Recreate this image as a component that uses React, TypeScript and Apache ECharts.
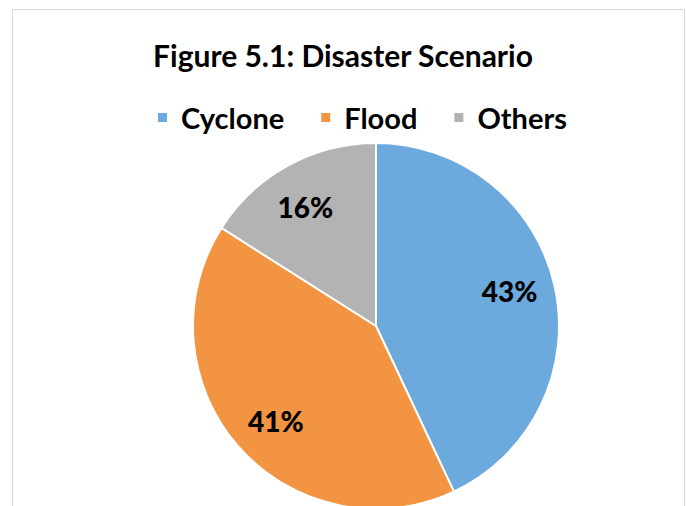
import React, { useEffect, useRef } from "react";
import * as echarts from "echarts";

const categories = ["Cyclone", "Flood", "Others"];
const shares = [43, 41, 16];
const colors = ["#6CAADD", "#F39442", "#B3B3B3"];
const titleText = "Figure 5.1: Disaster Scenario";

const FONT = "Lato, 'Open Sans', sans-serif";

export default function App() {
  const ref = useRef<HTMLDivElement>(null);

  useEffect(() => {
    document.body.style.margin = "0";
    if (!ref.current) return;
    const chart = echarts.init(ref.current, undefined, { renderer: "svg" });

    const data = categories.map((name, i) => ({
      name,
      value: shares[i],
      itemStyle: { color: colors[i] },
    }));

    chart.setOption({
      animation: false,
      backgroundColor: "#ffffff",
      color: colors,
      title: {
        text: titleText,
        left: "center",
        top: 35,
        textStyle: {
          fontFamily: FONT,
          fontWeight: "bold",
          fontSize: 30,
          color: "#000000",
        },
      },
      legend: {
        data: categories,
        left: 151,
        top: 98,
        icon: "rect",
        itemWidth: 11,
        itemHeight: 11,
        itemGap: 35,
        textStyle: {
          fontFamily: FONT,
          fontWeight: "bold",
          fontSize: 29,
          color: "#000000",
          padding: [0, 0, 0, 8],
        },
      },
      graphic: [
        {
          type: "rect",
          silent: true,
          shape: { x: 12.5, y: 9.5, width: 672, height: 520 },
          style: { fill: "none", stroke: "#D9D9D9", lineWidth: 1 },
        },
      ],
      series: [
        {
          type: "pie",
          name: "slices",
          center: [376, 326],
          radius: [0, 183],
          startAngle: 90,
          clockwise: true,
          data,
          itemStyle: { borderColor: "#ffffff", borderWidth: 2 },
          label: { show: false },
          labelLine: { show: false },
          emphasis: { disabled: true },
        },
        {
          // transparent ring that carries the percentage labels
          type: "pie",
          name: "labels",
          center: [376, 326],
          radius: [94, 176],
          startAngle: 92,
          clockwise: true,
          silent: true,
          data: categories.map((name, i) => ({ name, value: shares[i] })),
          itemStyle: { color: "rgba(0,0,0,0)" },
          label: {
            show: true,
            position: "inside",
            formatter: "{c}%",
            fontFamily: FONT,
            fontWeight: 900,
            fontSize: 28,
            color: "#000000",
          },
          labelLine: { show: false },
          emphasis: { disabled: true },
        },
      ],
    });

    return () => chart.dispose();
  }, []);

  return <div ref={ref} style={{ width: 686, height: 506 }} />;
}
